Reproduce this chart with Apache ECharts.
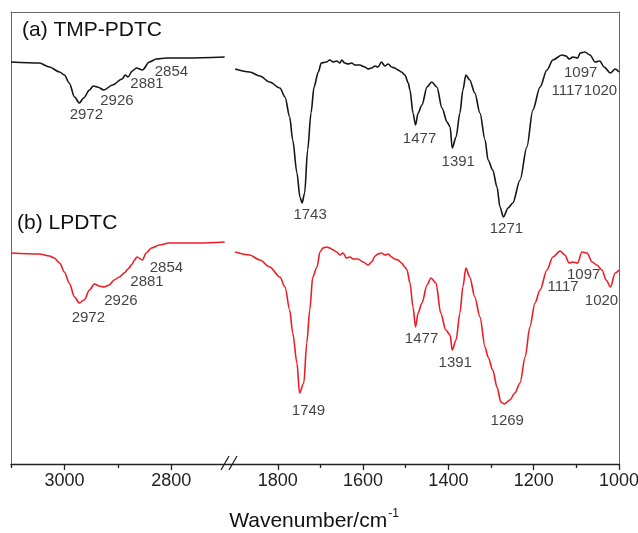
<!DOCTYPE html>
<html>
<head>
<meta charset="utf-8">
<script src="https://cdn.jsdelivr.net/npm/echarts@6/dist/echarts.min.js"></script>
<style>
html,body{margin:0;padding:0;background:#fff;}
#chart{width:638px;height:533px;}
</style>
</head>
<body>
<div id="chart"></div>
<script>
// ---- data (wavenumber cm^-1, transmittance a.u.) ----
const blackLeft = [[3100,402],[3047,401],[3028,397],[3009,392],[3000,389],[2991,381],[2981,367],[2972,361],[2964,366],[2953,374],[2946,378],[2938,377],[2926,374],[2910,379],[2892,385],[2886,389],[2881,387],[2873,393],[2865,396],[2854,394],[2841,402],[2828,405],[2809,406],[2772,406],[2700,407]];
const blackRight = [[1900,395],[1866,392],[1842,388],[1819,382],[1795,376],[1783,367],[1772,347],[1765,324],[1755,291],[1748,267],[1743,261],[1737,271],[1730,314],[1722,351],[1715,377],[1705,392],[1698,401],[1686,402],[1678,404],[1670,402],[1662,403],[1654,401],[1650,404],[1643,401],[1635,400],[1627,401],[1619,399],[1608,399],[1596,397],[1588,395],[1580,396],[1572,398],[1565,397],[1557,402],[1549,398],[1541,400],[1533,397],[1526,396],[1518,394],[1510,392],[1502,389],[1494,381],[1490,374],[1483,351],[1477,339],[1471,351],[1462,359],[1450,377],[1439,382],[1427,377],[1415,356],[1403,342],[1396,337],[1391,316],[1382,327],[1373,351],[1366,374],[1359,389],[1350,384],[1338,371],[1326,351],[1314,324],[1307,304],[1296,294],[1286,277],[1279,257],[1271,247],[1260,256],[1249,261],[1232,284],[1216,317],[1202,354],[1185,377],[1169,394],[1155,404],[1134,409],[1124,408],[1117,405],[1108,407],[1097,406],[1091,411],[1080,412],[1068,409],[1056,402],[1045,403],[1035,397],[1020,391],[1009,395],[1000,392]];
const redLeft = [[3100,211],[3047,210],[3028,208],[3019,206],[3009,201],[3000,192],[2991,181],[2981,167],[2972,161],[2963,164],[2953,174],[2944,180],[2935,178],[2926,177],[2916,179],[2907,184],[2897,187],[2888,191],[2881,195],[2873,200],[2869,204],[2864,207],[2854,204],[2847,211],[2837,216],[2822,219],[2804,221],[2748,221],[2700,222]];
const redRight = [[1900,212],[1866,209],[1842,204],[1819,197],[1795,187],[1783,177],[1772,154],[1765,131],[1755,101],[1749,71],[1739,81],[1732,121],[1725,154],[1718,187],[1708,197],[1701,212],[1694,216],[1686,217],[1678,216],[1670,214],[1662,212],[1654,209],[1647,211],[1639,206],[1631,207],[1623,205],[1612,205],[1600,202],[1588,199],[1580,202],[1572,208],[1565,210],[1557,211],[1549,209],[1541,210],[1533,207],[1526,205],[1518,204],[1510,201],[1502,197],[1497,194],[1490,181],[1483,157],[1477,137],[1471,151],[1462,161],[1450,179],[1441,186],[1429,181],[1418,151],[1406,134],[1396,129],[1391,114],[1382,124],[1373,151],[1366,177],[1359,196],[1350,187],[1338,167],[1326,147],[1314,117],[1307,107],[1296,94],[1286,77],[1277,62],[1269,60],[1256,64],[1244,71],[1232,81],[1220,107],[1209,137],[1197,161],[1185,174],[1169,194],[1155,207],[1138,213],[1127,209],[1117,201],[1108,202],[1097,201],[1087,212],[1075,211],[1063,202],[1052,199],[1040,194],[1030,184],[1020,177],[1009,191],[1000,194]];

const peaksA = [2972, 2926, 2881, 2854, 1743, 1477, 1391, 1271, 1117, 1097, 1020];
const peaksB = [2972, 2926, 2881, 2854, 1749, 1477, 1391, 1269, 1117, 1097, 1020];

const majorTicksLeft = [3000, 2800];
const minorTicksLeft = [3100, 2900];
const majorTicksRight = [1800, 1600, 1400, 1200, 1000];
const minorTicksRight = [1700, 1500, 1300, 1100];

const labelA = '(a) TMP-PDTC';
const labelB = '(b) LPDTC';

// ---- styling (pixel offsets of peak labels) ----
const offsetsA = {2972:[7,12],2926:[13,11],2881:[19,7],2854:[29,2],1743:[8,12],1477:[4,14],1391:[6,14],1271:[3,12],1117:[-2,32],1097:[3,15],1020:[-10,18]};
const offsetsB = {2972:[9,15],2926:[17,14],2881:[19,13],2854:[24,8],1749:[9,18],1477:[6,12],1391:[3,13],1269:[3,17],1117:[-6,24],1097:[6,12],1020:[-9,14]};

const FONT = "'Liberation Sans', Arial, sans-serif";
const BLACK = '#151515', RED = '#ee1c24', FRAME = '#666';

function lookup(segs, wn) {
  let best = null;
  segs.forEach(s => s.forEach(p => { if (!best || Math.abs(p[0]-wn) < Math.abs(best[0]-wn)) best = p; }));
  return best;
}
function annot(peaks, segs, offsets, left) {
  return peaks.filter(w => left ? w > 2000 : w < 2000).map(w => {
    const p = lookup(segs, w);
    return {name: String(w), value: [w, p[1]], label: {offset: offsets[w]}};
  });
}

const chart = echarts.init(document.getElementById('chart'), null, {renderer: 'canvas'});

const L = {left: 11, width: 219, top: 12, bottom: 69};
const R = {left: 230, right: 19, top: 12, bottom: 69};

function xAxes(gridIndex, min, max, major, minor) {
  return [
    {gridIndex, type: 'value', min, max, inverse: true, position: 'bottom',
     axisLine: {show: true, onZero: false, lineStyle: {color: '#222', width: 1.3}},
     axisTick: {show: true, customValues: major, length: 6, lineStyle: {color: '#222', width: 1.3}},
     axisLabel: {show: true, customValues: major, margin: 8, fontSize: 18, color: '#222', fontFamily: FONT,
                 formatter: v => String(v)},
     splitLine: {show: false}},
    {gridIndex, type: 'value', min, max, inverse: true, position: 'bottom',
     axisLine: {show: false, onZero: false},
     axisTick: {show: true, customValues: minor, length: 4, lineStyle: {color: '#222', width: 1.3}},
     axisLabel: {show: false}, splitLine: {show: false}},
    {gridIndex, type: 'value', min, max, inverse: true, position: 'top',
     axisLine: {show: true, onZero: false, lineStyle: {color: FRAME, width: 1}},
     axisTick: {show: false}, axisLabel: {show: false}, splitLine: {show: false}}
  ];
}

const option = {
  animation: false,
  backgroundColor: '#fff',
  grid: [
    Object.assign({containLabel: false, outerBoundsMode: 'none'}, L),
    Object.assign({containLabel: false, outerBoundsMode: 'none'}, R)
  ],
  xAxis: [].concat(
    xAxes(0, 2690, 3100, majorTicksLeft, minorTicksLeft),
    xAxes(1, 1000, 1912, majorTicksRight, minorTicksRight)
  ),
  yAxis: [
    {gridIndex: 0, type: 'value', min: 0, max: 452, position: 'left',
     axisLine: {show: true, onZero: false, lineStyle: {color: FRAME, width: 1}},
     axisTick: {show: false}, axisLabel: {show: false}, splitLine: {show: false}},
    {gridIndex: 1, type: 'value', min: 0, max: 452, position: 'right',
     axisLine: {show: true, onZero: false, lineStyle: {color: FRAME, width: 1}},
     axisTick: {show: false}, axisLabel: {show: false}, splitLine: {show: false}}
  ],
  series: [
    {type: 'line', xAxisIndex: 0, yAxisIndex: 0, data: blackLeft, showSymbol: false, smooth: 0.3, smoothMonotone: 'x', lineStyle: {color: BLACK, width: 1.6}},
    {type: 'line', xAxisIndex: 3, yAxisIndex: 1, data: blackRight, showSymbol: false, smooth: 0.3, smoothMonotone: 'x', lineStyle: {color: BLACK, width: 1.6}},
    {type: 'line', xAxisIndex: 0, yAxisIndex: 0, data: redLeft, showSymbol: false, smooth: 0.3, smoothMonotone: 'x', lineStyle: {color: RED, width: 1.6}},
    {type: 'line', xAxisIndex: 3, yAxisIndex: 1, data: redRight, showSymbol: false, smooth: 0.3, smoothMonotone: 'x', lineStyle: {color: RED, width: 1.6}},
    {type: 'scatter', xAxisIndex: 0, yAxisIndex: 0, symbolSize: 0, z: 5,
     data: annot(peaksA, [blackLeft], offsetsA, true).concat(annot(peaksB, [redLeft], offsetsB, true)),
     label: {show: true, position: 'inside', formatter: '{b}', fontSize: 15, color: '#111', fontFamily: FONT}},
    {type: 'scatter', xAxisIndex: 3, yAxisIndex: 1, symbolSize: 0, z: 5,
     data: annot(peaksA, [blackRight], offsetsA, false).concat(annot(peaksB, [redRight], offsetsB, false)),
     label: {show: true, position: 'inside', formatter: '{b}', fontSize: 15, color: '#111', fontFamily: FONT}}
  ],
  graphic: [
    {type: 'text', x: 22, y: 30, style: {text: labelA, fontSize: 21, fontFamily: FONT, fill: '#111', verticalAlign: 'middle', align: 'left'}},
    {type: 'text', x: 17, y: 223, style: {text: labelB, fontSize: 21, fontFamily: FONT, fill: '#111', verticalAlign: 'middle', align: 'left'}},
    {type: 'text', x: 314, y: 521, style: {text: '{a|Wavenumber/cm}{s|-1}', align: 'center', verticalAlign: 'middle',
      rich: {a: {fontSize: 21, fontFamily: FONT, fill: '#111', color: '#111', lineHeight: 26},
             s: {fontSize: 12, fontFamily: FONT, fill: '#111', color: '#111', verticalAlign: 'top', lineHeight: 26, padding: [0,0,0,1]}}}},
    {type: 'line', shape: {x1: 221, y1: 470, x2: 229, y2: 456}, style: {stroke: '#222', lineWidth: 1.3}},
    {type: 'line', shape: {x1: 229, y1: 470, x2: 237, y2: 456}, style: {stroke: '#222', lineWidth: 1.3}}
  ]
};
chart.setOption(option);
</script>
</body>
</html>
